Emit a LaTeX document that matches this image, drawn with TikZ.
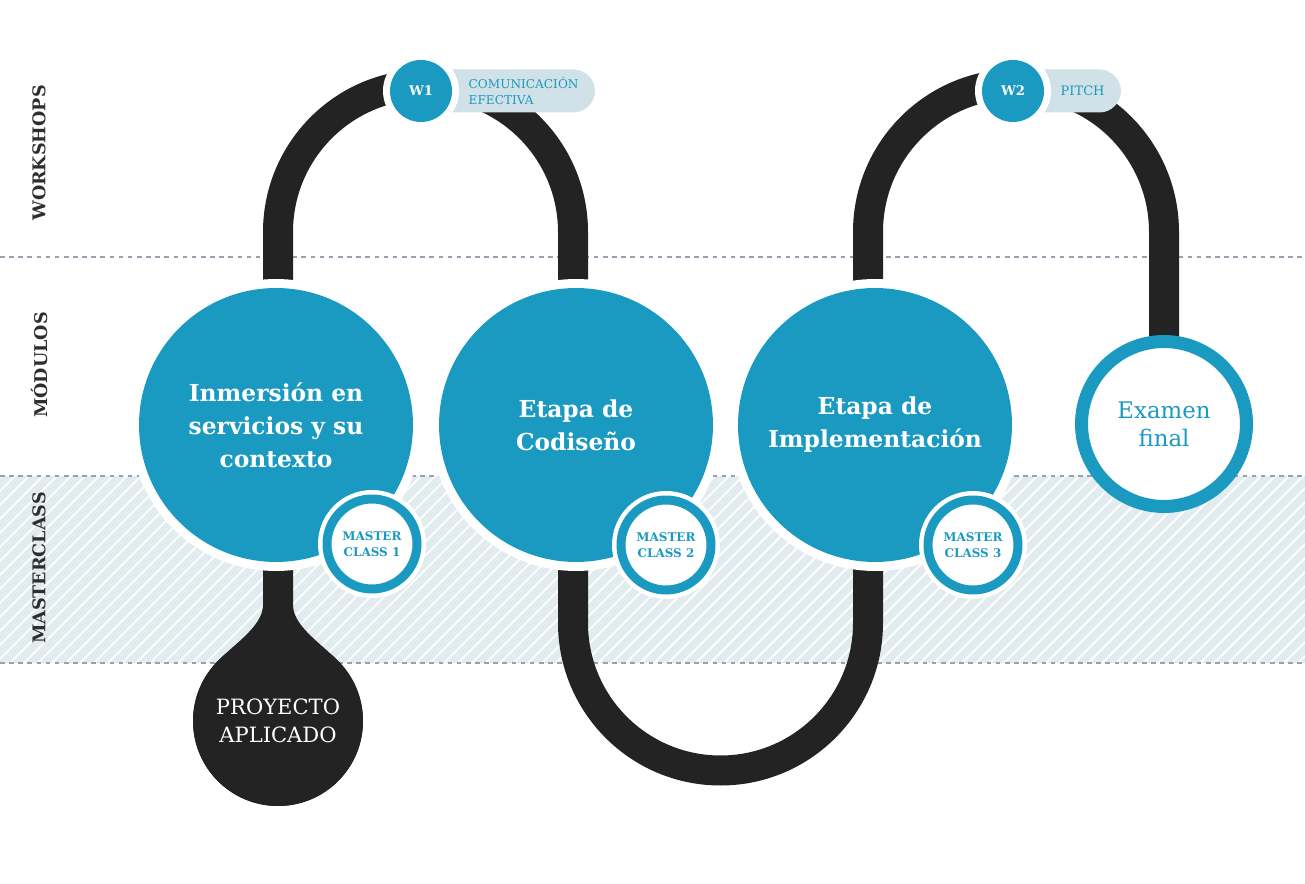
\documentclass[tikz,border=0pt]{standalone}
\usepackage{fontspec}
\setmainfont{DejaVu Serif}
\usepackage{tikz}
\usetikzlibrary{positioning, calc, backgrounds}
\definecolor{modblue}{HTML}{1B9AC1}
\definecolor{track}{HTML}{232323}
\definecolor{pillbg}{HTML}{D0E1E7}
\definecolor{bandbg}{HTML}{E2ECEF}
\definecolor{dashgray}{HTML}{9AA0B2}
\definecolor{rowtext}{HTML}{2E2E2E}

\begin{document}
\begin{tikzpicture}[x=0.02cm, y=0.02cm,
  module/.style={circle, fill=modblue, minimum size=5.48cm, inner sep=0pt,
    align=center, text=white, font=\fontsize{13.3}{18.8}\selectfont\bfseries,
    preaction={draw=white, line width=0.36cm}},
  master/.style={circle, fill=white, draw=modblue, line width=0.18cm,
    minimum size=1.8cm, inner sep=0pt, align=center, text=modblue,
    font=\fontsize{6.8}{9}\selectfont\bfseries,
    preaction={draw=white, line width=0.36cm}},
  workshop/.style={circle, fill=modblue, minimum size=1.24cm, inner sep=0pt,
    text=white, font=\fontsize{7.5}{9}\selectfont\bfseries,
    preaction={draw=white, line width=0.28cm}},
  pilltext/.style={align=left, inner xsep=0.32cm, inner ysep=0pt,
    text=modblue, font=\fontsize{6.9}{8.6}\selectfont},
  exam/.style={circle, fill=white, draw=modblue, line width=0.26cm,
    minimum size=3.3cm, inner sep=0pt, align=center, text=modblue,
    font=\fontsize{13}{16}\selectfont},
  project/.style={circle, fill=track, minimum size=3.4cm, inner sep=0pt,
    align=center, text=white, font=\fontsize{12}{16}\selectfont},
  rowlabel/.style={rotate=90, text=rowtext, font=\fontsize{10}{12}\selectfont\bfseries},
  trackline/.style={draw=track, line width=0.6cm},
  divider/.style={dashgray, line width=0.7pt, dash pattern=on 2.6pt off 2.6pt},
  hatch/.style={white, line width=1pt}
]
\useasboundingbox (0,0) rectangle (1305,883);

% Modules
\node[module] (m1) at (276,458) {Inmersión en\\servicios y su\\contexto};
\node[module] (m2) at (576,458) {Etapa de\\Codiseño};
\node[module] (m3) at (875,458) {Etapa de\\Implementación};
\node[exam] (exam) at (1164,459) {Examen\\final};

% Master classes
\node[master] (mc1) at (372,339) {MASTER\\CLASS 1};
\node[master] (mc2) at (666,338) {MASTER\\CLASS 2};
\node[master] (mc3) at (973,338) {MASTER\\CLASS 3};

% Workshops
\node[workshop] (w1) at (421,792) {W1};
\node[pilltext, right=0pt of w1] (p1) {COMUNICACIÓN\\EFECTIVA};
\node[workshop] (w2) at (1013,792) {W2};
\node[pilltext, right=0pt of w2, font=\fontsize{7.4}{9}\selectfont] (p2) {PITCH};

% Applied project
\node[project] (proj) at (278,162) {PROYECTO\\APLICADO};

% Row labels
\node[rowlabel] (lw) at (39,730) {WORKSHOPS};
\node[rowlabel] (lm) at (39,518) {MÓDULOS};
\node[rowlabel] (lc) at (39,315) {MASTERCLASS};

\begin{scope}[on background layer]
  % Masterclass band
  \fill[bandbg] (0,220) rectangle (1305,407);
  \begin{scope}
    \clip (0,220) rectangle (1305,407);
    \foreach \i in {-200,-186,...,1305}
      \draw[hatch] (\i,220) -- ++(200,200);
  \end{scope}
  \draw[divider] (0,626) -- (1305,626);
  \draw[divider] (0,407) -- (1305,407);
  \draw[divider] (0,220) -- (1305,220);

  % Track
  \draw[trackline] ($(m1.center)+(2,0)$) -- ++(0,193)
    arc[start angle=180, end angle=0, radius=147.5] -- ($(m2.center)+(-3,0)$);
  \draw[trackline] ($(m2.center)+(-3,0)$) -- ++(0,-198)
    arc[start angle=180, end angle=360, radius=147.5] -- ($(m3.center)+(-7,0)$);
  \draw[trackline] ($(m3.center)+(-7,0)$) -- ++(0,193)
    arc[start angle=180, end angle=0, radius=148] -- (exam.center);
  \fill[track] (263,458) -- (263,278) .. controls (263,255) and (229,236)
    .. ($(proj.center)+(140:85)$) arc[start angle=140, end angle=400, radius=85]
    .. controls (327,236) and (293,255) .. (293,278) -- (293,458) -- cycle;

  % Workshop pills
  \fill[pillbg, rounded corners=0.43cm] ($(w1.center)+(0,21.5)$)
    rectangle ($(p1.east)+(0,-21.5)$);
  \fill[pillbg, rounded corners=0.43cm] ($(w2.center)+(0,21.5)$)
    rectangle ($(p2.east)+(0,-21.5)$);
\end{scope}

\end{tikzpicture}
\end{document}
